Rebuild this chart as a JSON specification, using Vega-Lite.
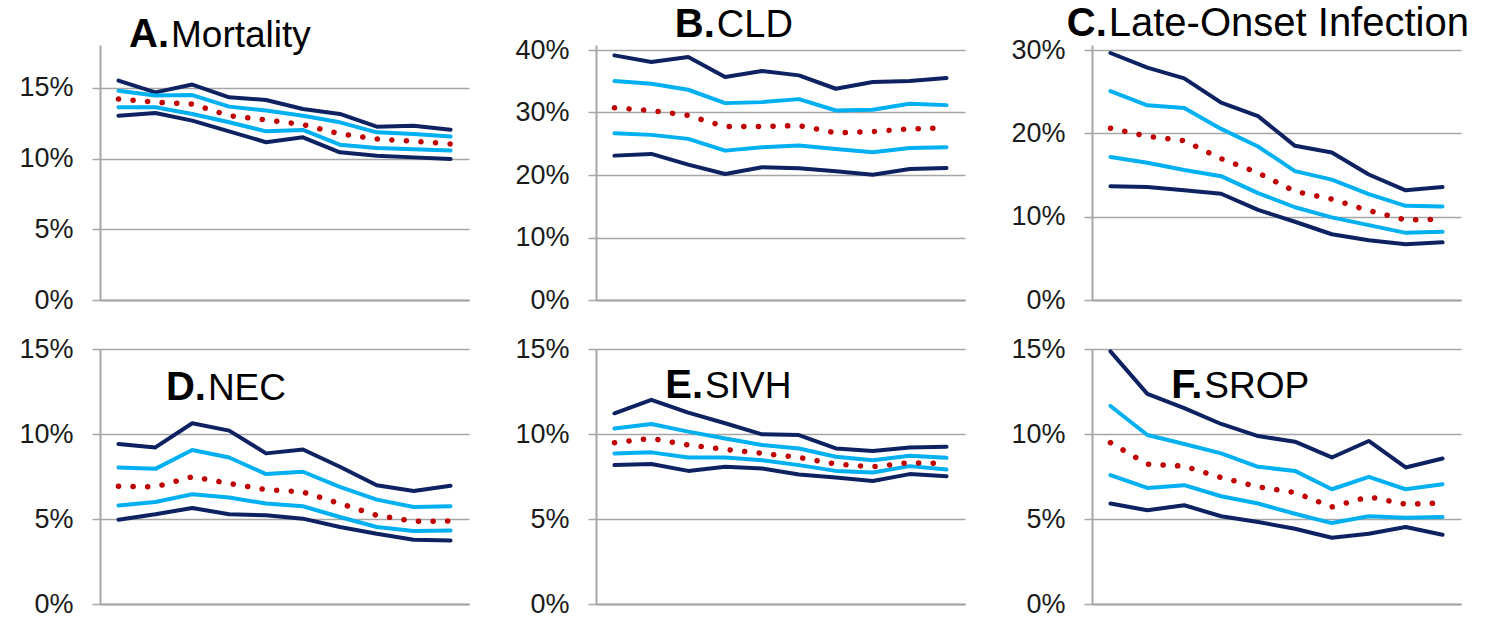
{
"$schema": "https://vega.github.io/schema/vega-lite/v6.json",
"autosize": "none",
"padding": {"left": 100, "top": 45, "right": 1385, "bottom": 572},
"background": "white",
"datasets": {
"series": [
{"p":"A","s":"hi2","x":1,"v":15.52},{"p":"A","s":"hi2","x":2,"v":14.69},{"p":"A","s":"hi2","x":3,"v":15.24},{"p":"A","s":"hi2","x":4,"v":14.34},{"p":"A","s":"hi2","x":5,"v":14.15},{"p":"A","s":"hi2","x":6,"v":13.51},{"p":"A","s":"hi2","x":7,"v":13.16},{"p":"A","s":"hi2","x":8,"v":12.26},{"p":"A","s":"hi2","x":9,"v":12.33},{"p":"A","s":"hi2","x":10,"v":12.05},
{"p":"A","s":"hi1","x":1,"v":14.81},{"p":"A","s":"hi1","x":2,"v":14.46},{"p":"A","s":"hi1","x":3,"v":14.50},{"p":"A","s":"hi1","x":4,"v":13.68},{"p":"A","s":"hi1","x":5,"v":13.40},{"p":"A","s":"hi1","x":6,"v":13.04},{"p":"A","s":"hi1","x":7,"v":12.57},{"p":"A","s":"hi1","x":8,"v":11.86},{"p":"A","s":"hi1","x":9,"v":11.75},{"p":"A","s":"hi1","x":10,"v":11.56},
{"p":"A","s":"med","x":1,"v":14.22},{"p":"A","s":"med","x":2,"v":13.99},{"p":"A","s":"med","x":3,"v":13.87},{"p":"A","s":"med","x":4,"v":13.04},{"p":"A","s":"med","x":5,"v":12.74},{"p":"A","s":"med","x":6,"v":12.41},{"p":"A","s":"med","x":7,"v":11.75},{"p":"A","s":"med","x":8,"v":11.39},{"p":"A","s":"med","x":9,"v":11.23},{"p":"A","s":"med","x":10,"v":11.04},
{"p":"A","s":"lo1","x":1,"v":13.63},{"p":"A","s":"lo1","x":2,"v":13.63},{"p":"A","s":"lo1","x":3,"v":13.16},{"p":"A","s":"lo1","x":4,"v":12.57},{"p":"A","s":"lo1","x":5,"v":11.93},{"p":"A","s":"lo1","x":6,"v":12.03},{"p":"A","s":"lo1","x":7,"v":10.99},{"p":"A","s":"lo1","x":8,"v":10.75},{"p":"A","s":"lo1","x":9,"v":10.66},{"p":"A","s":"lo1","x":10,"v":10.57},
{"p":"A","s":"lo2","x":1,"v":13.04},{"p":"A","s":"lo2","x":2,"v":13.23},{"p":"A","s":"lo2","x":3,"v":12.69},{"p":"A","s":"lo2","x":4,"v":11.93},{"p":"A","s":"lo2","x":5,"v":11.16},{"p":"A","s":"lo2","x":6,"v":11.51},{"p":"A","s":"lo2","x":7,"v":10.45},{"p":"A","s":"lo2","x":8,"v":10.21},{"p":"A","s":"lo2","x":9,"v":10.09},{"p":"A","s":"lo2","x":10,"v":9.98},
{"p":"B","s":"hi2","x":1,"v":39.14},{"p":"B","s":"hi2","x":2,"v":38.07},{"p":"B","s":"hi2","x":3,"v":38.88},{"p":"B","s":"hi2","x":4,"v":35.67},{"p":"B","s":"hi2","x":5,"v":36.63},{"p":"B","s":"hi2","x":6,"v":35.94},{"p":"B","s":"hi2","x":7,"v":33.80},{"p":"B","s":"hi2","x":8,"v":34.87},{"p":"B","s":"hi2","x":9,"v":35.03},{"p":"B","s":"hi2","x":10,"v":35.51},
{"p":"B","s":"hi1","x":1,"v":35.03},{"p":"B","s":"hi1","x":2,"v":34.60},{"p":"B","s":"hi1","x":3,"v":33.64},{"p":"B","s":"hi1","x":4,"v":31.50},{"p":"B","s":"hi1","x":5,"v":31.66},{"p":"B","s":"hi1","x":6,"v":32.14},{"p":"B","s":"hi1","x":7,"v":30.32},{"p":"B","s":"hi1","x":8,"v":30.43},{"p":"B","s":"hi1","x":9,"v":31.39},{"p":"B","s":"hi1","x":10,"v":31.18},
{"p":"B","s":"med","x":1,"v":30.75},{"p":"B","s":"med","x":2,"v":30.32},{"p":"B","s":"med","x":3,"v":29.52},{"p":"B","s":"med","x":4,"v":27.75},{"p":"B","s":"med","x":5,"v":27.75},{"p":"B","s":"med","x":6,"v":27.91},{"p":"B","s":"med","x":7,"v":26.74},{"p":"B","s":"med","x":8,"v":26.95},{"p":"B","s":"med","x":9,"v":27.38},{"p":"B","s":"med","x":10,"v":27.54},
{"p":"B","s":"lo1","x":1,"v":26.68},{"p":"B","s":"lo1","x":2,"v":26.42},{"p":"B","s":"lo1","x":3,"v":25.78},{"p":"B","s":"lo1","x":4,"v":23.90},{"p":"B","s":"lo1","x":5,"v":24.44},{"p":"B","s":"lo1","x":6,"v":24.71},{"p":"B","s":"lo1","x":7,"v":24.17},{"p":"B","s":"lo1","x":8,"v":23.64},{"p":"B","s":"lo1","x":9,"v":24.33},{"p":"B","s":"lo1","x":10,"v":24.44},
{"p":"B","s":"lo2","x":1,"v":23.10},{"p":"B","s":"lo2","x":2,"v":23.37},{"p":"B","s":"lo2","x":3,"v":21.66},{"p":"B","s":"lo2","x":4,"v":20.16},{"p":"B","s":"lo2","x":5,"v":21.23},{"p":"B","s":"lo2","x":6,"v":21.07},{"p":"B","s":"lo2","x":7,"v":20.59},{"p":"B","s":"lo2","x":8,"v":20.05},{"p":"B","s":"lo2","x":9,"v":20.96},{"p":"B","s":"lo2","x":10,"v":21.12},
{"p":"C","s":"hi2","x":1,"v":29.64},{"p":"C","s":"hi2","x":2,"v":27.89},{"p":"C","s":"hi2","x":3,"v":26.60},{"p":"C","s":"hi2","x":4,"v":23.68},{"p":"C","s":"hi2","x":5,"v":22.06},{"p":"C","s":"hi2","x":6,"v":18.50},{"p":"C","s":"hi2","x":7,"v":17.69},{"p":"C","s":"hi2","x":8,"v":15.06},{"p":"C","s":"hi2","x":9,"v":13.16},{"p":"C","s":"hi2","x":10,"v":13.56},
{"p":"C","s":"hi1","x":1,"v":25.06},{"p":"C","s":"hi1","x":2,"v":23.36},{"p":"C","s":"hi1","x":3,"v":23.04},{"p":"C","s":"hi1","x":4,"v":20.53},{"p":"C","s":"hi1","x":5,"v":18.42},{"p":"C","s":"hi1","x":6,"v":15.47},{"p":"C","s":"hi1","x":7,"v":14.45},{"p":"C","s":"hi1","x":8,"v":12.71},{"p":"C","s":"hi1","x":9,"v":11.30},{"p":"C","s":"hi1","x":10,"v":11.21},
{"p":"C","s":"med","x":1,"v":20.61},{"p":"C","s":"med","x":2,"v":19.64},{"p":"C","s":"med","x":3,"v":19.11},{"p":"C","s":"med","x":4,"v":16.96},{"p":"C","s":"med","x":5,"v":15.26},{"p":"C","s":"med","x":6,"v":13.04},{"p":"C","s":"med","x":7,"v":12.10},{"p":"C","s":"med","x":8,"v":10.73},{"p":"C","s":"med","x":9,"v":9.60},{"p":"C","s":"med","x":10,"v":9.68},
{"p":"C","s":"lo1","x":1,"v":17.17},{"p":"C","s":"lo1","x":2,"v":16.48},{"p":"C","s":"lo1","x":3,"v":15.59},{"p":"C","s":"lo1","x":4,"v":14.86},{"p":"C","s":"lo1","x":5,"v":12.83},{"p":"C","s":"lo1","x":6,"v":11.13},{"p":"C","s":"lo1","x":7,"v":9.92},{"p":"C","s":"lo1","x":8,"v":8.99},{"p":"C","s":"lo1","x":9,"v":8.06},{"p":"C","s":"lo1","x":10,"v":8.18},
{"p":"C","s":"lo2","x":1,"v":13.64},{"p":"C","s":"lo2","x":2,"v":13.56},{"p":"C","s":"lo2","x":3,"v":13.16},{"p":"C","s":"lo2","x":4,"v":12.75},{"p":"C","s":"lo2","x":5,"v":10.81},{"p":"C","s":"lo2","x":6,"v":9.39},{"p":"C","s":"lo2","x":7,"v":7.89},{"p":"C","s":"lo2","x":8,"v":7.17},{"p":"C","s":"lo2","x":9,"v":6.68},{"p":"C","s":"lo2","x":10,"v":6.92},
{"p":"D","s":"hi2","x":1,"v":9.41},{"p":"D","s":"hi2","x":2,"v":9.21},{"p":"D","s":"hi2","x":3,"v":10.63},{"p":"D","s":"hi2","x":4,"v":10.20},{"p":"D","s":"hi2","x":5,"v":8.86},{"p":"D","s":"hi2","x":6,"v":9.09},{"p":"D","s":"hi2","x":7,"v":8.07},{"p":"D","s":"hi2","x":8,"v":6.99},{"p":"D","s":"hi2","x":9,"v":6.65},{"p":"D","s":"hi2","x":10,"v":6.95},
{"p":"D","s":"hi1","x":1,"v":8.03},{"p":"D","s":"hi1","x":2,"v":7.95},{"p":"D","s":"hi1","x":3,"v":9.06},{"p":"D","s":"hi1","x":4,"v":8.62},{"p":"D","s":"hi1","x":5,"v":7.64},{"p":"D","s":"hi1","x":6,"v":7.78},{"p":"D","s":"hi1","x":7,"v":6.89},{"p":"D","s":"hi1","x":8,"v":6.14},{"p":"D","s":"hi1","x":9,"v":5.71},{"p":"D","s":"hi1","x":10,"v":5.75},
{"p":"D","s":"med","x":1,"v":6.93},{"p":"D","s":"med","x":2,"v":6.89},{"p":"D","s":"med","x":3,"v":7.48},{"p":"D","s":"med","x":4,"v":7.09},{"p":"D","s":"med","x":5,"v":6.73},{"p":"D","s":"med","x":6,"v":6.59},{"p":"D","s":"med","x":7,"v":5.91},{"p":"D","s":"med","x":8,"v":5.22},{"p":"D","s":"med","x":9,"v":4.86},{"p":"D","s":"med","x":10,"v":4.88},
{"p":"D","s":"lo1","x":1,"v":5.79},{"p":"D","s":"lo1","x":2,"v":6.00},{"p":"D","s":"lo1","x":3,"v":6.46},{"p":"D","s":"lo1","x":4,"v":6.26},{"p":"D","s":"lo1","x":5,"v":5.91},{"p":"D","s":"lo1","x":6,"v":5.75},{"p":"D","s":"lo1","x":7,"v":5.12},{"p":"D","s":"lo1","x":8,"v":4.53},{"p":"D","s":"lo1","x":9,"v":4.29},{"p":"D","s":"lo1","x":10,"v":4.33},
{"p":"D","s":"lo2","x":1,"v":4.96},{"p":"D","s":"lo2","x":2,"v":5.28},{"p":"D","s":"lo2","x":3,"v":5.65},{"p":"D","s":"lo2","x":4,"v":5.28},{"p":"D","s":"lo2","x":5,"v":5.22},{"p":"D","s":"lo2","x":6,"v":5.02},{"p":"D","s":"lo2","x":7,"v":4.53},{"p":"D","s":"lo2","x":8,"v":4.13},{"p":"D","s":"lo2","x":9,"v":3.78},{"p":"D","s":"lo2","x":10,"v":3.74},
{"p":"E","s":"hi2","x":1,"v":11.22},{"p":"E","s":"hi2","x":2,"v":12.01},{"p":"E","s":"hi2","x":3,"v":11.26},{"p":"E","s":"hi2","x":4,"v":10.63},{"p":"E","s":"hi2","x":5,"v":9.98},{"p":"E","s":"hi2","x":6,"v":9.94},{"p":"E","s":"hi2","x":7,"v":9.15},{"p":"E","s":"hi2","x":8,"v":9.00},{"p":"E","s":"hi2","x":9,"v":9.21},{"p":"E","s":"hi2","x":10,"v":9.25},
{"p":"E","s":"hi1","x":1,"v":10.33},{"p":"E","s":"hi1","x":2,"v":10.59},{"p":"E","s":"hi1","x":3,"v":10.14},{"p":"E","s":"hi1","x":4,"v":9.74},{"p":"E","s":"hi1","x":5,"v":9.35},{"p":"E","s":"hi1","x":6,"v":9.15},{"p":"E","s":"hi1","x":7,"v":8.66},{"p":"E","s":"hi1","x":8,"v":8.46},{"p":"E","s":"hi1","x":9,"v":8.72},{"p":"E","s":"hi1","x":10,"v":8.60},
{"p":"E","s":"med","x":1,"v":9.49},{"p":"E","s":"med","x":2,"v":9.74},{"p":"E","s":"med","x":3,"v":9.35},{"p":"E","s":"med","x":4,"v":9.09},{"p":"E","s":"med","x":5,"v":8.86},{"p":"E","s":"med","x":6,"v":8.62},{"p":"E","s":"med","x":7,"v":8.23},{"p":"E","s":"med","x":8,"v":8.07},{"p":"E","s":"med","x":9,"v":8.31},{"p":"E","s":"med","x":10,"v":8.27},
{"p":"E","s":"lo1","x":1,"v":8.86},{"p":"E","s":"lo1","x":2,"v":8.92},{"p":"E","s":"lo1","x":3,"v":8.62},{"p":"E","s":"lo1","x":4,"v":8.62},{"p":"E","s":"lo1","x":5,"v":8.46},{"p":"E","s":"lo1","x":6,"v":8.17},{"p":"E","s":"lo1","x":7,"v":7.83},{"p":"E","s":"lo1","x":8,"v":7.74},{"p":"E","s":"lo1","x":9,"v":8.11},{"p":"E","s":"lo1","x":10,"v":7.91},
{"p":"E","s":"lo2","x":1,"v":8.17},{"p":"E","s":"lo2","x":2,"v":8.23},{"p":"E","s":"lo2","x":3,"v":7.83},{"p":"E","s":"lo2","x":4,"v":8.07},{"p":"E","s":"lo2","x":5,"v":7.97},{"p":"E","s":"lo2","x":6,"v":7.62},{"p":"E","s":"lo2","x":7,"v":7.44},{"p":"E","s":"lo2","x":8,"v":7.24},{"p":"E","s":"lo2","x":9,"v":7.64},{"p":"E","s":"lo2","x":10,"v":7.52},
{"p":"F","s":"hi2","x":1,"v":14.86},{"p":"F","s":"hi2","x":2,"v":12.36},{"p":"F","s":"hi2","x":3,"v":11.52},{"p":"F","s":"hi2","x":4,"v":10.59},{"p":"F","s":"hi2","x":5,"v":9.88},{"p":"F","s":"hi2","x":6,"v":9.55},{"p":"F","s":"hi2","x":7,"v":8.62},{"p":"F","s":"hi2","x":8,"v":9.59},{"p":"F","s":"hi2","x":9,"v":8.03},{"p":"F","s":"hi2","x":10,"v":8.56},
{"p":"F","s":"hi1","x":1,"v":11.65},{"p":"F","s":"hi1","x":2,"v":9.94},{"p":"F","s":"hi1","x":3,"v":9.41},{"p":"F","s":"hi1","x":4,"v":8.86},{"p":"F","s":"hi1","x":5,"v":8.07},{"p":"F","s":"hi1","x":6,"v":7.83},{"p":"F","s":"hi1","x":7,"v":6.75},{"p":"F","s":"hi1","x":8,"v":7.48},{"p":"F","s":"hi1","x":9,"v":6.75},{"p":"F","s":"hi1","x":10,"v":7.05},
{"p":"F","s":"med","x":1,"v":9.49},{"p":"F","s":"med","x":2,"v":8.23},{"p":"F","s":"med","x":3,"v":8.11},{"p":"F","s":"med","x":4,"v":7.44},{"p":"F","s":"med","x":5,"v":6.89},{"p":"F","s":"med","x":6,"v":6.56},{"p":"F","s":"med","x":7,"v":5.71},{"p":"F","s":"med","x":8,"v":6.30},{"p":"F","s":"med","x":9,"v":5.87},{"p":"F","s":"med","x":10,"v":5.94},
{"p":"F","s":"lo1","x":1,"v":7.58},{"p":"F","s":"lo1","x":2,"v":6.83},{"p":"F","s":"lo1","x":3,"v":6.99},{"p":"F","s":"lo1","x":4,"v":6.34},{"p":"F","s":"lo1","x":5,"v":5.91},{"p":"F","s":"lo1","x":6,"v":5.31},{"p":"F","s":"lo1","x":7,"v":4.76},{"p":"F","s":"lo1","x":8,"v":5.16},{"p":"F","s":"lo1","x":9,"v":5.08},{"p":"F","s":"lo1","x":10,"v":5.12},
{"p":"F","s":"lo2","x":1,"v":5.91},{"p":"F","s":"lo2","x":2,"v":5.51},{"p":"F","s":"lo2","x":3,"v":5.81},{"p":"F","s":"lo2","x":4,"v":5.16},{"p":"F","s":"lo2","x":5,"v":4.82},{"p":"F","s":"lo2","x":6,"v":4.43},{"p":"F","s":"lo2","x":7,"v":3.90},{"p":"F","s":"lo2","x":8,"v":4.13},{"p":"F","s":"lo2","x":9,"v":4.53},{"p":"F","s":"lo2","x":10,"v":4.07}
],
"titles": [
{"p":"A","letter":"A.","name":"Mortality"},
{"p":"B","letter":"B.","name":"CLD"},
{"p":"C","letter":"C.","name":"Late-Onset Infection"},
{"p":"D","letter":"D.","name":"NEC"},
{"p":"E","letter":"E.","name":"SIVH"},
{"p":"F","letter":"F.","name":"SROP"}
]
},
"columns": 3,
"spacing": {"row": 49, "column": 127},
"bounds": "flush",
"concat": [
{"width": 369, "height": 255, "layer": [
 {"data": {"name": "series"}, "transform": [{"filter": "datum.p === 'A' && datum.s !== 'med'"}],
  "mark": {"type": "line", "strokeWidth": 4, "strokeJoin": "round", "strokeCap": "round"},
  "encoding": {
   "x": {"field": "x", "type": "quantitative", "scale": {"domain": [0.5, 10.5], "nice": false, "zero": false}, "axis": {"title": null}},
   "y": {"field": "v", "type": "quantitative", "scale": {"domain": [0, 18.04], "nice": false}, "axis": {"title": null, "values": [0, 5, 10, 15]}},
   "color": {"field": "s", "type": "nominal", "scale": {"domain": ["hi2", "hi1", "lo1", "lo2"], "range": ["#0E2262", "#00B0F0", "#00B0F0", "#0E2262"]}, "legend": null}}},
 {"data": {"name": "series"}, "transform": [{"filter": "datum.p === 'A' && datum.s === 'med'"}],
  "mark": {"type": "line", "color": "#C00000", "strokeWidth": 5.5, "strokeDash": [0.1, 14.5], "strokeCap": "round"},
  "encoding": {"x": {"field": "x", "type": "quantitative", "axis": {"title": null}}, "y": {"field": "v", "type": "quantitative", "axis": {"title": null}}}},
 {"data": {"name": "titles"}, "transform": [{"filter": "datum.p === 'A'"}],
  "mark": {"type": "text", "font": "Liberation Sans", "fontWeight": "bold", "fontSize": 40, "align": "right", "baseline": "alphabetic", "color": "#000000"},
  "encoding": {"x": {"datum": 2.37, "axis": {"title": null}}, "y": {"datum": 17.9, "axis": {"title": null}}, "text": {"field": "letter"}}},
 {"data": {"name": "titles"}, "transform": [{"filter": "datum.p === 'A'"}],
  "mark": {"type": "text", "font": "Liberation Sans", "fontSize": 37, "align": "left", "baseline": "alphabetic", "dx": 2, "color": "#000000"},
  "encoding": {"x": {"datum": 2.37, "axis": {"title": null}}, "y": {"datum": 17.9, "axis": {"title": null}}, "text": {"field": "name"}}}
]},
{"width": 369, "height": 255, "layer": [
 {"data": {"name": "series"}, "transform": [{"filter": "datum.p === 'B' && datum.s !== 'med'"}],
  "mark": {"type": "line", "strokeWidth": 4, "strokeJoin": "round", "strokeCap": "round"},
  "encoding": {
   "x": {"field": "x", "type": "quantitative", "scale": {"domain": [0.5, 10.5], "nice": false, "zero": false}, "axis": {"title": null}},
   "y": {"field": "v", "type": "quantitative", "scale": {"domain": [0, 40.8], "nice": false}, "axis": {"title": null, "values": [0, 10, 20, 30, 40]}},
   "color": {"field": "s", "type": "nominal", "scale": {"domain": ["hi2", "hi1", "lo1", "lo2"], "range": ["#0E2262", "#00B0F0", "#00B0F0", "#0E2262"]}, "legend": null}}},
 {"data": {"name": "series"}, "transform": [{"filter": "datum.p === 'B' && datum.s === 'med'"}],
  "mark": {"type": "line", "color": "#C00000", "strokeWidth": 5.5, "strokeDash": [0.1, 14.5], "strokeCap": "round"},
  "encoding": {"x": {"field": "x", "type": "quantitative", "axis": {"title": null}}, "y": {"field": "v", "type": "quantitative", "axis": {"title": null}}}},
 {"data": {"name": "titles"}, "transform": [{"filter": "datum.p === 'B'"}],
  "mark": {"type": "text", "font": "Liberation Sans", "fontWeight": "bold", "fontSize": 40, "align": "right", "baseline": "alphabetic", "color": "#000000"},
  "encoding": {"x": {"datum": 3.72, "axis": {"title": null}}, "y": {"datum": 42.08, "axis": {"title": null}}, "text": {"field": "letter"}}},
 {"data": {"name": "titles"}, "transform": [{"filter": "datum.p === 'B'"}],
  "mark": {"type": "text", "font": "Liberation Sans", "fontSize": 38, "align": "left", "baseline": "alphabetic", "dx": 2, "color": "#000000"},
  "encoding": {"x": {"datum": 3.72, "axis": {"title": null}}, "y": {"datum": 42.08, "axis": {"title": null}}, "text": {"field": "name"}}}
]},
{"width": 369, "height": 255, "layer": [
 {"data": {"name": "series"}, "transform": [{"filter": "datum.p === 'C' && datum.s !== 'med'"}],
  "mark": {"type": "line", "strokeWidth": 4, "strokeJoin": "round", "strokeCap": "round"},
  "encoding": {
   "x": {"field": "x", "type": "quantitative", "scale": {"domain": [0.5, 10.5], "nice": false, "zero": false}, "axis": {"title": null}},
   "y": {"field": "v", "type": "quantitative", "scale": {"domain": [0, 30.6], "nice": false}, "axis": {"title": null, "values": [0, 10, 20, 30]}},
   "color": {"field": "s", "type": "nominal", "scale": {"domain": ["hi2", "hi1", "lo1", "lo2"], "range": ["#0E2262", "#00B0F0", "#00B0F0", "#0E2262"]}, "legend": null}}},
 {"data": {"name": "series"}, "transform": [{"filter": "datum.p === 'C' && datum.s === 'med'"}],
  "mark": {"type": "line", "color": "#C00000", "strokeWidth": 5.5, "strokeDash": [0.1, 14.5], "strokeCap": "round"},
  "encoding": {"x": {"field": "x", "type": "quantitative", "axis": {"title": null}}, "y": {"field": "v", "type": "quantitative", "axis": {"title": null}}}},
 {"data": {"name": "titles"}, "transform": [{"filter": "datum.p === 'C'"}],
  "mark": {"type": "text", "font": "Liberation Sans", "fontWeight": "bold", "fontSize": 40, "align": "right", "baseline": "alphabetic", "color": "#000000"},
  "encoding": {"x": {"datum": 0.9, "axis": {"title": null}}, "y": {"datum": 31.68, "axis": {"title": null}}, "text": {"field": "letter"}}},
 {"data": {"name": "titles"}, "transform": [{"filter": "datum.p === 'C'"}],
  "mark": {"type": "text", "font": "Liberation Sans", "fontSize": 40, "align": "left", "baseline": "alphabetic", "dx": 2, "color": "#000000"},
  "encoding": {"x": {"datum": 0.9, "axis": {"title": null}}, "y": {"datum": 31.68, "axis": {"title": null}}, "text": {"field": "name"}}}
]},
{"width": 369, "height": 255, "layer": [
 {"data": {"name": "series"}, "transform": [{"filter": "datum.p === 'D' && datum.s !== 'med'"}],
  "mark": {"type": "line", "strokeWidth": 4, "strokeJoin": "round", "strokeCap": "round"},
  "encoding": {
   "x": {"field": "x", "type": "quantitative", "scale": {"domain": [0.5, 10.5], "nice": false, "zero": false}, "axis": {"title": null}},
   "y": {"field": "v", "type": "quantitative", "scale": {"domain": [0, 15], "nice": false}, "axis": {"title": null, "values": [0, 5, 10, 15]}},
   "color": {"field": "s", "type": "nominal", "scale": {"domain": ["hi2", "hi1", "lo1", "lo2"], "range": ["#0E2262", "#00B0F0", "#00B0F0", "#0E2262"]}, "legend": null}}},
 {"data": {"name": "series"}, "transform": [{"filter": "datum.p === 'D' && datum.s === 'med'"}],
  "mark": {"type": "line", "color": "#C00000", "strokeWidth": 5.5, "strokeDash": [0.1, 14.5], "strokeCap": "round"},
  "encoding": {"x": {"field": "x", "type": "quantitative", "axis": {"title": null}}, "y": {"field": "v", "type": "quantitative", "axis": {"title": null}}}},
 {"data": {"name": "titles"}, "transform": [{"filter": "datum.p === 'D'"}],
  "mark": {"type": "text", "font": "Liberation Sans", "fontWeight": "bold", "fontSize": 40, "align": "right", "baseline": "alphabetic", "color": "#000000"},
  "encoding": {"x": {"datum": 3.37, "axis": {"title": null}}, "y": {"datum": 12.0, "axis": {"title": null}}, "text": {"field": "letter"}}},
 {"data": {"name": "titles"}, "transform": [{"filter": "datum.p === 'D'"}],
  "mark": {"type": "text", "font": "Liberation Sans", "fontSize": 37, "align": "left", "baseline": "alphabetic", "dx": 2, "color": "#000000"},
  "encoding": {"x": {"datum": 3.37, "axis": {"title": null}}, "y": {"datum": 12.0, "axis": {"title": null}}, "text": {"field": "name"}}}
]},
{"width": 369, "height": 255, "layer": [
 {"data": {"name": "series"}, "transform": [{"filter": "datum.p === 'E' && datum.s !== 'med'"}],
  "mark": {"type": "line", "strokeWidth": 4, "strokeJoin": "round", "strokeCap": "round"},
  "encoding": {
   "x": {"field": "x", "type": "quantitative", "scale": {"domain": [0.5, 10.5], "nice": false, "zero": false}, "axis": {"title": null}},
   "y": {"field": "v", "type": "quantitative", "scale": {"domain": [0, 15], "nice": false}, "axis": {"title": null, "values": [0, 5, 10, 15]}},
   "color": {"field": "s", "type": "nominal", "scale": {"domain": ["hi2", "hi1", "lo1", "lo2"], "range": ["#0E2262", "#00B0F0", "#00B0F0", "#0E2262"]}, "legend": null}}},
 {"data": {"name": "series"}, "transform": [{"filter": "datum.p === 'E' && datum.s === 'med'"}],
  "mark": {"type": "line", "color": "#C00000", "strokeWidth": 5.5, "strokeDash": [0.1, 14.5], "strokeCap": "round"},
  "encoding": {"x": {"field": "x", "type": "quantitative", "axis": {"title": null}}, "y": {"field": "v", "type": "quantitative", "axis": {"title": null}}}},
 {"data": {"name": "titles"}, "transform": [{"filter": "datum.p === 'E'"}],
  "mark": {"type": "text", "font": "Liberation Sans", "fontWeight": "bold", "fontSize": 40, "align": "right", "baseline": "alphabetic", "color": "#000000"},
  "encoding": {"x": {"datum": 3.4, "axis": {"title": null}}, "y": {"datum": 12.12, "axis": {"title": null}}, "text": {"field": "letter"}}},
 {"data": {"name": "titles"}, "transform": [{"filter": "datum.p === 'E'"}],
  "mark": {"type": "text", "font": "Liberation Sans", "fontSize": 37, "align": "left", "baseline": "alphabetic", "dx": 2, "color": "#000000"},
  "encoding": {"x": {"datum": 3.4, "axis": {"title": null}}, "y": {"datum": 12.12, "axis": {"title": null}}, "text": {"field": "name"}}}
]},
{"width": 369, "height": 255, "layer": [
 {"data": {"name": "series"}, "transform": [{"filter": "datum.p === 'F' && datum.s !== 'med'"}],
  "mark": {"type": "line", "strokeWidth": 4, "strokeJoin": "round", "strokeCap": "round"},
  "encoding": {
   "x": {"field": "x", "type": "quantitative", "scale": {"domain": [0.5, 10.5], "nice": false, "zero": false}, "axis": {"title": null}},
   "y": {"field": "v", "type": "quantitative", "scale": {"domain": [0, 15], "nice": false}, "axis": {"title": null, "values": [0, 5, 10, 15]}},
   "color": {"field": "s", "type": "nominal", "scale": {"domain": ["hi2", "hi1", "lo1", "lo2"], "range": ["#0E2262", "#00B0F0", "#00B0F0", "#0E2262"]}, "legend": null}}},
 {"data": {"name": "series"}, "transform": [{"filter": "datum.p === 'F' && datum.s === 'med'"}],
  "mark": {"type": "line", "color": "#C00000", "strokeWidth": 5.5, "strokeDash": [0.1, 14.5], "strokeCap": "round"},
  "encoding": {"x": {"field": "x", "type": "quantitative", "axis": {"title": null}}, "y": {"field": "v", "type": "quantitative", "axis": {"title": null}}}},
 {"data": {"name": "titles"}, "transform": [{"filter": "datum.p === 'F'"}],
  "mark": {"type": "text", "font": "Liberation Sans", "fontWeight": "bold", "fontSize": 40, "align": "right", "baseline": "alphabetic", "color": "#000000"},
  "encoding": {"x": {"datum": 3.49, "axis": {"title": null}}, "y": {"datum": 12.12, "axis": {"title": null}}, "text": {"field": "letter"}}},
 {"data": {"name": "titles"}, "transform": [{"filter": "datum.p === 'F'"}],
  "mark": {"type": "text", "font": "Liberation Sans", "fontSize": 37, "align": "left", "baseline": "alphabetic", "dx": 2, "color": "#000000"},
  "encoding": {"x": {"datum": 3.49, "axis": {"title": null}}, "y": {"datum": 12.12, "axis": {"title": null}}, "text": {"field": "name"}}}
]}
],
"config": {
 "view": {"stroke": null},
 "axisY": {"domainColor": "#A6A6A6", "domainWidth": 2, "grid": true, "gridColor": "#A6A6A6", "gridWidth": 1.5, "tickColor": "#A6A6A6", "tickWidth": 1.5, "tickSize": 8, "labelFont": "Liberation Sans", "labelFontSize": 27, "labelColor": "#1A1A1A", "labelPadding": 19, "labelExpr": "datum.value + '%'", "labelOverlap": false, "labelFlush": false},
 "axisX": {"domainColor": "#A6A6A6", "domainWidth": 2, "ticks": false, "labels": false, "grid": false}
}
}
